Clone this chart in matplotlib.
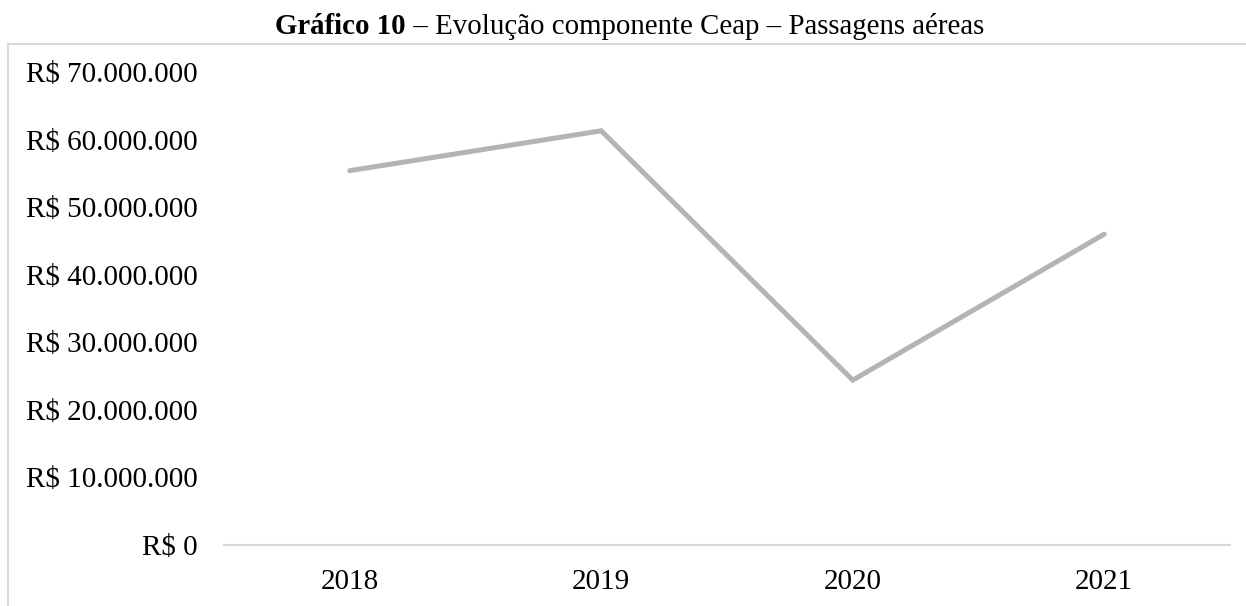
import matplotlib
matplotlib.use("Agg")
import matplotlib.pyplot as plt
from matplotlib.lines import Line2D
from matplotlib.ticker import FuncFormatter

# Ceap - air tickets, yearly totals (R$)
anos = ["2018", "2019", "2020", "2021"]
valores = [55_400_000, 61_300_000, 24_400_000, 46_000_000]
y_ticks = [0, 10_000_000, 20_000_000, 30_000_000, 40_000_000,
           50_000_000, 60_000_000, 70_000_000]

plt.rcParams["font.family"] = ["Liberation Serif", "DejaVu Serif"]

W, H = 1246, 606
FS = 21.0
FS_TITLE = 20.8
fig = plt.figure(figsize=(W / 100, H / 100), dpi=100)
ax = fig.add_axes([224 / W, (H - 545) / H, 1006 / W, 473 / H])

x = list(range(len(anos)))
ax.plot(x, valores, color="#b4b4b4", linewidth=3.6,
        solid_capstyle="round", solid_joinstyle="miter", clip_on=False)

ax.set_xlim(-0.5, len(anos) - 0.5)
ax.set_ylim(0, 70_000_000)
ax.set_xticks(x)
ax.set_xticklabels(anos)
ax.set_yticks(y_ticks)


def brl(v, _pos):
    if v == 0:
        return "R$ 0"
    return "R$ " + f"{int(v):,}".replace(",", ".")


ax.yaxis.set_major_formatter(FuncFormatter(brl))
ax.tick_params(axis="both", length=0, labelsize=FS, colors="black")
ax.tick_params(axis="x", pad=17)
ax.tick_params(axis="y", pad=19)

for side in ("top", "right", "left"):
    ax.spines[side].set_visible(False)
ax.spines["bottom"].set_color("#d9d9d9")
ax.spines["bottom"].set_linewidth(1.5)

# chart frame (top and left edges visible on the page)
frame_color = "#d9d9d9"
fig.add_artist(Line2D([7.5 / W, 1.0], [1 - 44 / H, 1 - 44 / H],
                      transform=fig.transFigure, color=frame_color, linewidth=1.5))
fig.add_artist(Line2D([7.5 / W, 7.5 / W], [1 - 44 / H, 0.0],
                      transform=fig.transFigure, color=frame_color, linewidth=1.5))

# title with bold prefix
t1 = fig.text(275 / W, 1 - 27 / H, "Gráfico 10", ha="left", va="center",
              fontsize=FS_TITLE, fontweight="bold")
fig.canvas.draw()
bb = t1.get_window_extent()
fig.text(bb.x1 / W, 1 - 27 / H, " – Evolução componente Ceap – Passagens aéreas",
         ha="left", va="center", fontsize=FS_TITLE)

fig.savefig("out.png", dpi=100, facecolor="white")
